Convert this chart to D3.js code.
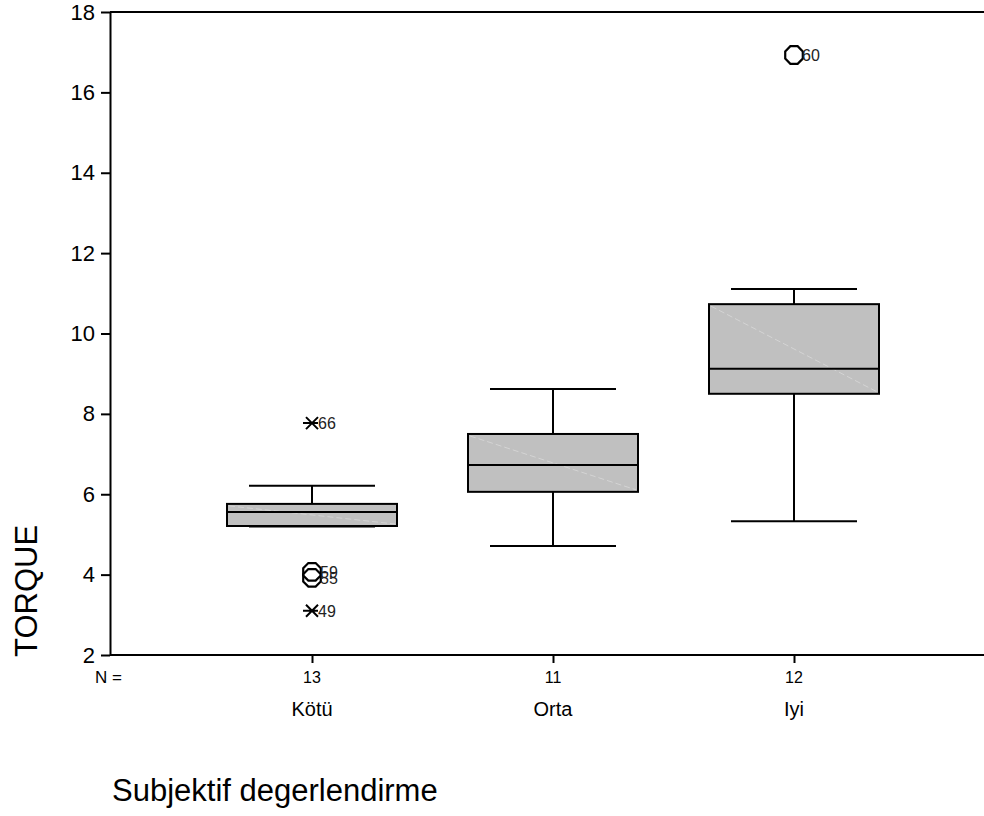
<!DOCTYPE html>
<html><head><meta charset="utf-8">
<script src="https://cdn.jsdelivr.net/npm/d3@7"></script>
<style>body{margin:0;background:#fff}svg{display:block}text{font-family:"Liberation Sans",Arial,sans-serif}</style>
</head><body>
<svg id="c" width="984" height="816"></svg>
<script>
const categories = ["Kötü", "Orta", "Iyi"];
const counts = [13, 11, 12];
const q1 = [5.21, 6.06, 8.50];
const medians = [5.56, 6.73, 9.12];
const q3 = [5.76, 7.50, 10.73];
const whiskerLow = [5.20, 4.71, 5.33];
const whiskerHigh = [6.21, 8.62, 11.11];
const outliers = [
  {cat: "Kötü", value: 7.77, label: "66", type: "extreme"},
  {cat: "Kötü", value: 4.07, label: "59", type: "outlier"},
  {cat: "Kötü", value: 3.92, label: "55", type: "outlier"},
  {cat: "Kötü", value: 3.10, label: "49", type: "extreme"},
  {cat: "Iyi", value: 16.93, label: "60", type: "outlier"}
];
const yTicks = [2, 4, 6, 8, 10, 12, 14, 16, 18];

const svg = d3.select("#c");
const y = d3.scaleLinear().domain([2, 18]).range([655, 12]);
const x = d3.scalePoint().domain(categories).range([312, 794]);
const boxW = 170, capW = 126;
const FF = "Liberation Sans, Arial, sans-serif";

// frame
svg.append("line").attr("x1",110).attr("x2",984).attr("y1",12).attr("y2",12).attr("stroke","#000").attr("stroke-width",2);
const yAxis = svg.append("g").attr("transform","translate(110,0)")
  .call(d3.axisLeft(y).tickValues(yTicks).tickSize(9).tickSizeOuter(0).tickFormat(d3.format("d")));
yAxis.select(".domain").attr("stroke-width",2);
yAxis.selectAll(".tick line").attr("stroke-width",2);
yAxis.selectAll("text").attr("font-size",22).attr("font-family",FF).attr("fill","#000").attr("x",-15);

const xAxis = svg.append("g").attr("transform","translate(0,655)")
  .call(d3.axisBottom(x).tickSize(8).tickSizeOuter(0).tickFormat(""));
xAxis.select(".domain").attr("d","M110,0H984").attr("stroke-width",2);
xAxis.selectAll(".tick line").attr("stroke-width",2);

// N labels
svg.append("text").attr("x",95).attr("y",683).attr("font-size",17).text("N =");
svg.selectAll(".nlab").data(categories).join("text").attr("class","nlab")
  .attr("x",d=>x(d)).attr("y",683).attr("text-anchor","middle").attr("font-size",16)
  .text((d,i)=>counts[i]);
svg.selectAll(".clab").data(categories).join("text").attr("class","clab")
  .attr("x",d=>x(d)).attr("y",716).attr("text-anchor","middle").attr("font-size",20)
  .text(d=>d);

// axis titles
svg.append("text").attr("transform","translate(37,657) rotate(-90)").attr("text-anchor","start")
  .attr("font-size",31).text("TORQUE");
svg.append("text").attr("x",112).attr("y",801).attr("font-size",31).text("Subjektif degerlendirme");

// boxes
const g = svg.selectAll(".box").data(categories).join("g").attr("class","box");
g.append("line").attr("x1",d=>x(d)).attr("x2",d=>x(d))
  .attr("y1",(d,i)=>y(whiskerHigh[i])).attr("y2",(d,i)=>y(q3[i])).attr("stroke","#000").attr("stroke-width",2);
g.append("line").attr("x1",d=>x(d)).attr("x2",d=>x(d))
  .attr("y1",(d,i)=>y(whiskerLow[i])).attr("y2",(d,i)=>y(q1[i])).attr("stroke","#000").attr("stroke-width",2);
g.append("line").attr("x1",d=>x(d)-capW/2).attr("x2",d=>x(d)+capW/2)
  .attr("y1",(d,i)=>y(whiskerHigh[i])).attr("y2",(d,i)=>y(whiskerHigh[i])).attr("stroke","#000").attr("stroke-width",2);
g.append("line").attr("x1",d=>x(d)-capW/2).attr("x2",d=>x(d)+capW/2)
  .attr("y1",(d,i)=>y(whiskerLow[i])).attr("y2",(d,i)=>y(whiskerLow[i])).attr("stroke","#000").attr("stroke-width",2);
g.append("rect").attr("x",d=>x(d)-boxW/2).attr("width",boxW)
  .attr("y",(d,i)=>y(q3[i])).attr("height",(d,i)=>y(q1[i])-y(q3[i]))
  .attr("fill","#c0c0c0").attr("stroke","#000").attr("stroke-width",2);
g.append("line").attr("x1",d=>x(d)-boxW/2+2).attr("x2",d=>x(d)+boxW/2-2)
  .attr("y1",(d,i)=>y(q3[i])+2).attr("y2",(d,i)=>y(q1[i])-2)
  .attr("stroke","#d4d4d4").attr("stroke-width",1).attr("stroke-dasharray","6,3");
g.append("line").attr("x1",d=>x(d)-boxW/2).attr("x2",d=>x(d)+boxW/2)
  .attr("y1",(d,i)=>y(medians[i])).attr("y2",(d,i)=>y(medians[i])).attr("stroke","#000").attr("stroke-width",2);

// outliers
const R = 9.5;
const oct = d3.range(8).map(k=>{const a=Math.PI/8+k*Math.PI/4;return [(R*Math.cos(a)).toFixed(2),(R*Math.sin(a)).toFixed(2)];});
const o = svg.selectAll(".out").data(outliers).join("g").attr("class","out")
  .attr("transform",d=>`translate(${x(d.cat)},${y(d.value)})`);
o.filter(d=>d.type==="outlier").append("polygon").attr("points",oct.map(p=>p.join(",")).join(" "))
  .attr("fill","none").attr("stroke","#000").attr("stroke-width",2.2);
o.filter(d=>d.type==="extreme").append("path").attr("d","M-6,-6L6,6M-6,6L6,-6M-9,0H6")
  .attr("stroke","#000").attr("stroke-width",2).attr("fill","none");
o.append("text").attr("x",d=>d.type==="outlier"?8:6).attr("y",6).attr("font-size",16).attr("fill","#222").text(d=>d.label);
</script>
</body></html>
